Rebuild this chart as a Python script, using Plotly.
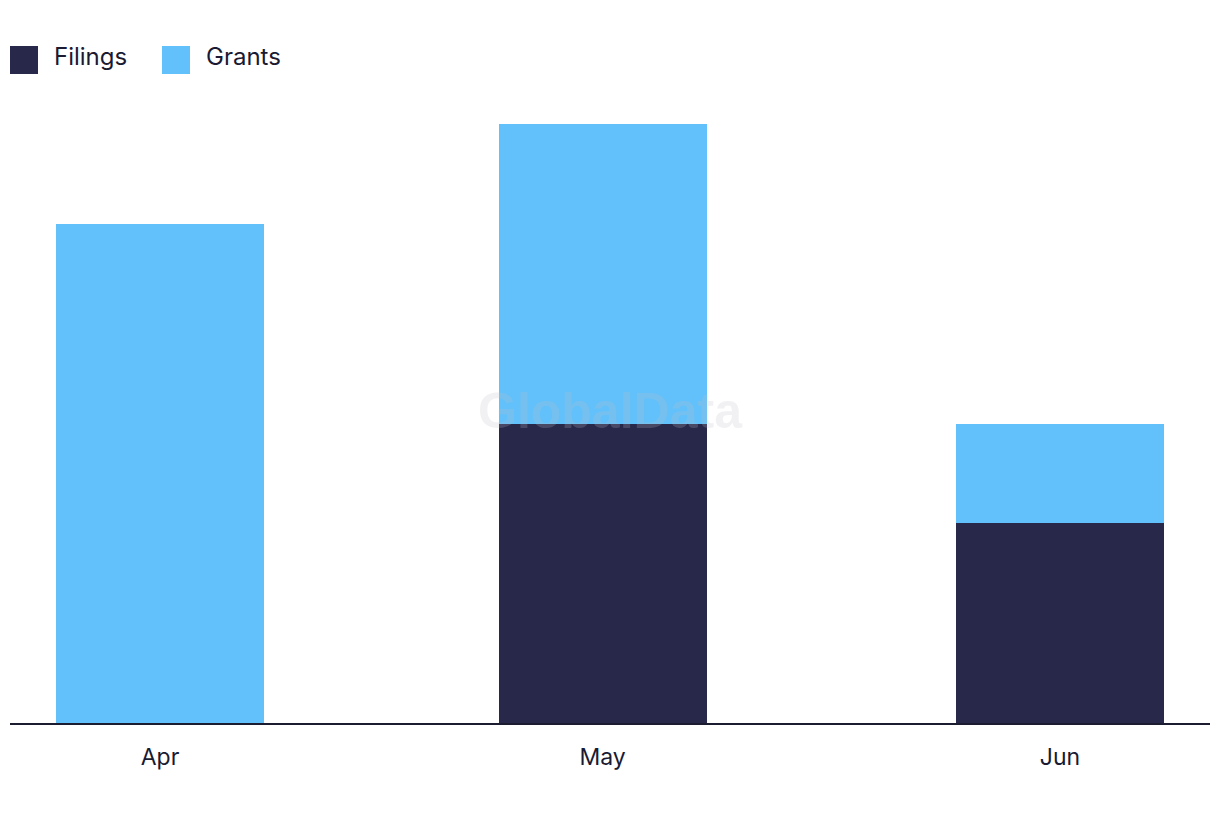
import plotly.graph_objects as go

months = ["2023-04-01", "2023-05-01", "2023-06-01"]
tick_labels = ["Apr", "May", "Jun"]
filings = [0, 3, 2]
grants = [5, 3, 1]

NAVY = "#28284B"
BLUE = "#62C1FA"
TEXT = "#1A1A33"
FONT = "Inter, Open Sans, sans-serif"

bar_width_ms = 14.1 * 86400000

fig = go.Figure()
fig.add_trace(go.Bar(x=months, y=filings, name="Filings", marker_color=NAVY,
                     width=bar_width_ms, marker_line_width=0))
fig.add_trace(go.Bar(x=months, y=grants, name="Grants", marker_color=BLUE,
                     width=bar_width_ms, marker_line_width=0))

# custom legend (large squares)
legend_items = [("Filings", NAVY, 10), ("Grants", BLUE, 162)]
for name, col, px in legend_items:
    fig.add_shape(type="rect", xref="paper", yref="paper",
                  x0=(px - 10) / 1200, x1=(px + 28 - 10) / 1200,
                  y0=(723 - 74) / 599, y1=(723 - 46) / 599,
                  fillcolor=col, line_width=0)
    fig.add_annotation(text=name, xref="paper", yref="paper",
                       x=(px + 42 - 10) / 1200, y=(723 - 56.5) / 599,
                       xanchor="left", yanchor="middle", showarrow=False,
                       font=dict(family=FONT, size=24, color=TEXT))

# watermark
fig.add_annotation(text="<b>GlobalData</b>", xref="paper", yref="paper",
                   x=0.5, y=0.521, showarrow=False,
                   font=dict(family="Liberation Sans, Arial, sans-serif", size=50,
                             color="rgba(190,190,200,0.22)"))

fig.update_layout(
    width=1220, height=822,
    barmode="stack",
    showlegend=False,
    plot_bgcolor="white", paper_bgcolor="white",
    margin=dict(l=10, r=10, t=124, b=99),
    font=dict(family=FONT, size=23, color=TEXT),
    xaxis=dict(type="date", range=["2023-03-21 20:00", "2023-06-11 04:00"],
               tickvals=months, ticktext=tick_labels,
               showgrid=False, zeroline=False,
               showline=True, linecolor="#1C1C30", linewidth=2,
               ticks="outside", ticklen=12, tickcolor="rgba(0,0,0,0)",
               tickfont=dict(family=FONT, size=23, color=TEXT)),
    yaxis=dict(range=[0, 6], visible=False, showgrid=False, zeroline=False),
)

fig.write_html("out.html")
